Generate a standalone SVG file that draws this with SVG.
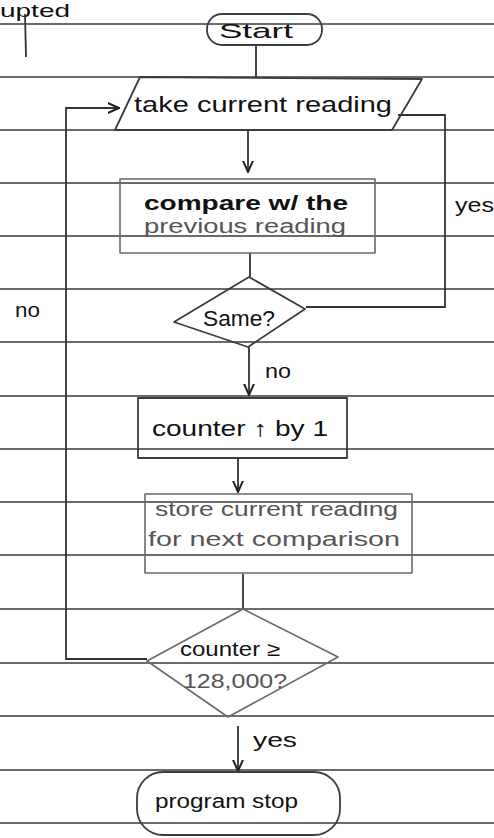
<svg xmlns="http://www.w3.org/2000/svg" width="494" height="838" viewBox="0 0 494 838">
  <defs>
    <marker id="arr" viewBox="0 0 10 10" refX="9" refY="5" markerWidth="7" markerHeight="7" orient="auto-start-reverse">
      <path d="M0,1 L9,5 L0,9" fill="none" stroke="#222" stroke-width="1.6"/>
    </marker>
  </defs>
  <style>
    .rule { stroke: #3a3a3a; stroke-width: 1.4; }
    .shape { fill: none; stroke: #3c3c3c; stroke-width: 1.8; stroke-linejoin: round; }
    .light { fill: none; stroke: #6a6a6a; stroke-width: 1.6; stroke-linejoin: round; }
    .conn { fill: none; stroke: #333; stroke-width: 1.8; }
    .t { font-family: "Liberation Sans", "DejaVu Sans", sans-serif; fill: #111; }
    .tg { font-family: "Liberation Sans", "DejaVu Sans", sans-serif; fill: #555; }
  </style>
  <rect x="0" y="0" width="494" height="838" fill="#ffffff"/>

  <g id="ruled-lines">
    <line class="rule" x1="0" y1="24" x2="494" y2="24"/>
    <line class="rule" x1="0" y1="77" x2="494" y2="77"/>
    <line class="rule" x1="0" y1="130" x2="494" y2="130"/>
    <line class="rule" x1="0" y1="183" x2="494" y2="183"/>
    <line class="rule" x1="0" y1="236" x2="494" y2="236"/>
    <line class="rule" x1="0" y1="289" x2="494" y2="289"/>
    <line class="rule" x1="0" y1="342" x2="494" y2="342"/>
    <line class="rule" x1="0" y1="396" x2="494" y2="396"/>
    <line class="rule" x1="0" y1="449" x2="494" y2="449"/>
    <line class="rule" x1="0" y1="502" x2="494" y2="502"/>
    <line class="rule" x1="0" y1="555" x2="494" y2="555"/>
    <line class="rule" x1="0" y1="609" x2="494" y2="609"/>
    <line class="rule" x1="0" y1="663" x2="494" y2="663"/>
    <line class="rule" x1="0" y1="716" x2="494" y2="716"/>
    <line class="rule" x1="0" y1="770" x2="494" y2="770"/>
    <line class="rule" x1="0" y1="823" x2="494" y2="823"/>
  </g>

  <g id="fragment">
    <text class="t" x="0" y="17" font-size="19" textLength="70" lengthAdjust="spacingAndGlyphs">upted</text>
    <line class="conn" x1="25" y1="14" x2="26" y2="57"/>
  </g>

  <g id="connectors">
    <line class="conn" x1="256" y1="45" x2="256" y2="77"/>
    <line class="conn" x1="248" y1="131" x2="248" y2="172" marker-end="url(#arr)"/>
    <line class="conn" x1="250" y1="253" x2="250" y2="277"/>
    <line class="conn" x1="249" y1="347" x2="249" y2="395" marker-end="url(#arr)"/>
    <line class="conn" x1="238" y1="459" x2="238" y2="492" marker-end="url(#arr)"/>
    <line class="conn" x1="243" y1="574" x2="243" y2="609"/>
    <line class="conn" x1="238" y1="726" x2="238" y2="771" marker-end="url(#arr)"/>
    <path class="conn" d="M398,115 H445 V307 H306"/>
    <path class="conn" d="M147,659 H66 V108 H119" marker-end="url(#arr)"/>
    <text class="t" x="455" y="212" font-size="21" textLength="39" lengthAdjust="spacingAndGlyphs">yes</text>
    <text class="t" x="15" y="317" font-size="20" textLength="25" lengthAdjust="spacingAndGlyphs">no</text>
    <text class="t" x="265" y="378" font-size="20" textLength="26" lengthAdjust="spacingAndGlyphs">no</text>
    <text class="t" x="253" y="747" font-size="21" textLength="44" lengthAdjust="spacingAndGlyphs">yes</text>
  </g>

  <g id="start">
    <rect class="shape" x="207" y="14" width="115" height="31" rx="15" ry="15"/>
    <text class="t" x="219" y="38" font-size="21" textLength="74" lengthAdjust="spacingAndGlyphs">Start</text>
  </g>

  <g id="take-reading">
    <polygon class="shape" points="140,77 422,79 392,130 115,130"/>
    <text class="t" x="134" y="112" font-size="22" textLength="258" lengthAdjust="spacingAndGlyphs">take current reading</text>
  </g>

  <g id="compare">
    <rect class="light" x="120" y="179" width="255" height="74"/>
    <text class="t" x="144" y="210" font-size="21" font-weight="bold" textLength="204" lengthAdjust="spacingAndGlyphs">compare w/ the</text>
    <text class="tg" x="144" y="233" font-size="20" textLength="202" lengthAdjust="spacingAndGlyphs">previous reading</text>
  </g>

  <g id="same">
    <polygon class="shape" points="249,277 305,309 248,347 174,322"/>
    <text class="t" x="203" y="326" font-size="22" textLength="72" lengthAdjust="spacingAndGlyphs">Same?</text>
  </g>

  <g id="counter-inc">
    <rect class="shape" x="138" y="398" width="209" height="60"/>
    <text class="t" x="152" y="436" font-size="22" textLength="176" lengthAdjust="spacingAndGlyphs">counter ↑ by 1</text>
  </g>

  <g id="store">
    <rect class="light" x="145" y="494" width="267" height="79"/>
    <text class="tg" x="155" y="516" font-size="20" textLength="243" lengthAdjust="spacingAndGlyphs">store current reading</text>
    <text class="tg" x="148" y="546" font-size="20" textLength="252" lengthAdjust="spacingAndGlyphs">for next comparison</text>
  </g>

  <g id="counter-check">
    <polygon class="light" points="243,609 338,657 228,717 147,661"/>
    <text class="t" x="180" y="656" font-size="20" textLength="100" lengthAdjust="spacingAndGlyphs">counter ≥</text>
    <text class="tg" x="183" y="688" font-size="20" textLength="104" lengthAdjust="spacingAndGlyphs">128,000?</text>
  </g>

  <g id="program-stop">
    <rect class="shape" x="137" y="772" width="203" height="63" rx="26" ry="26"/>
    <text class="t" x="155" y="808" font-size="20" textLength="143" lengthAdjust="spacingAndGlyphs">program stop</text>
  </g>
</svg>
